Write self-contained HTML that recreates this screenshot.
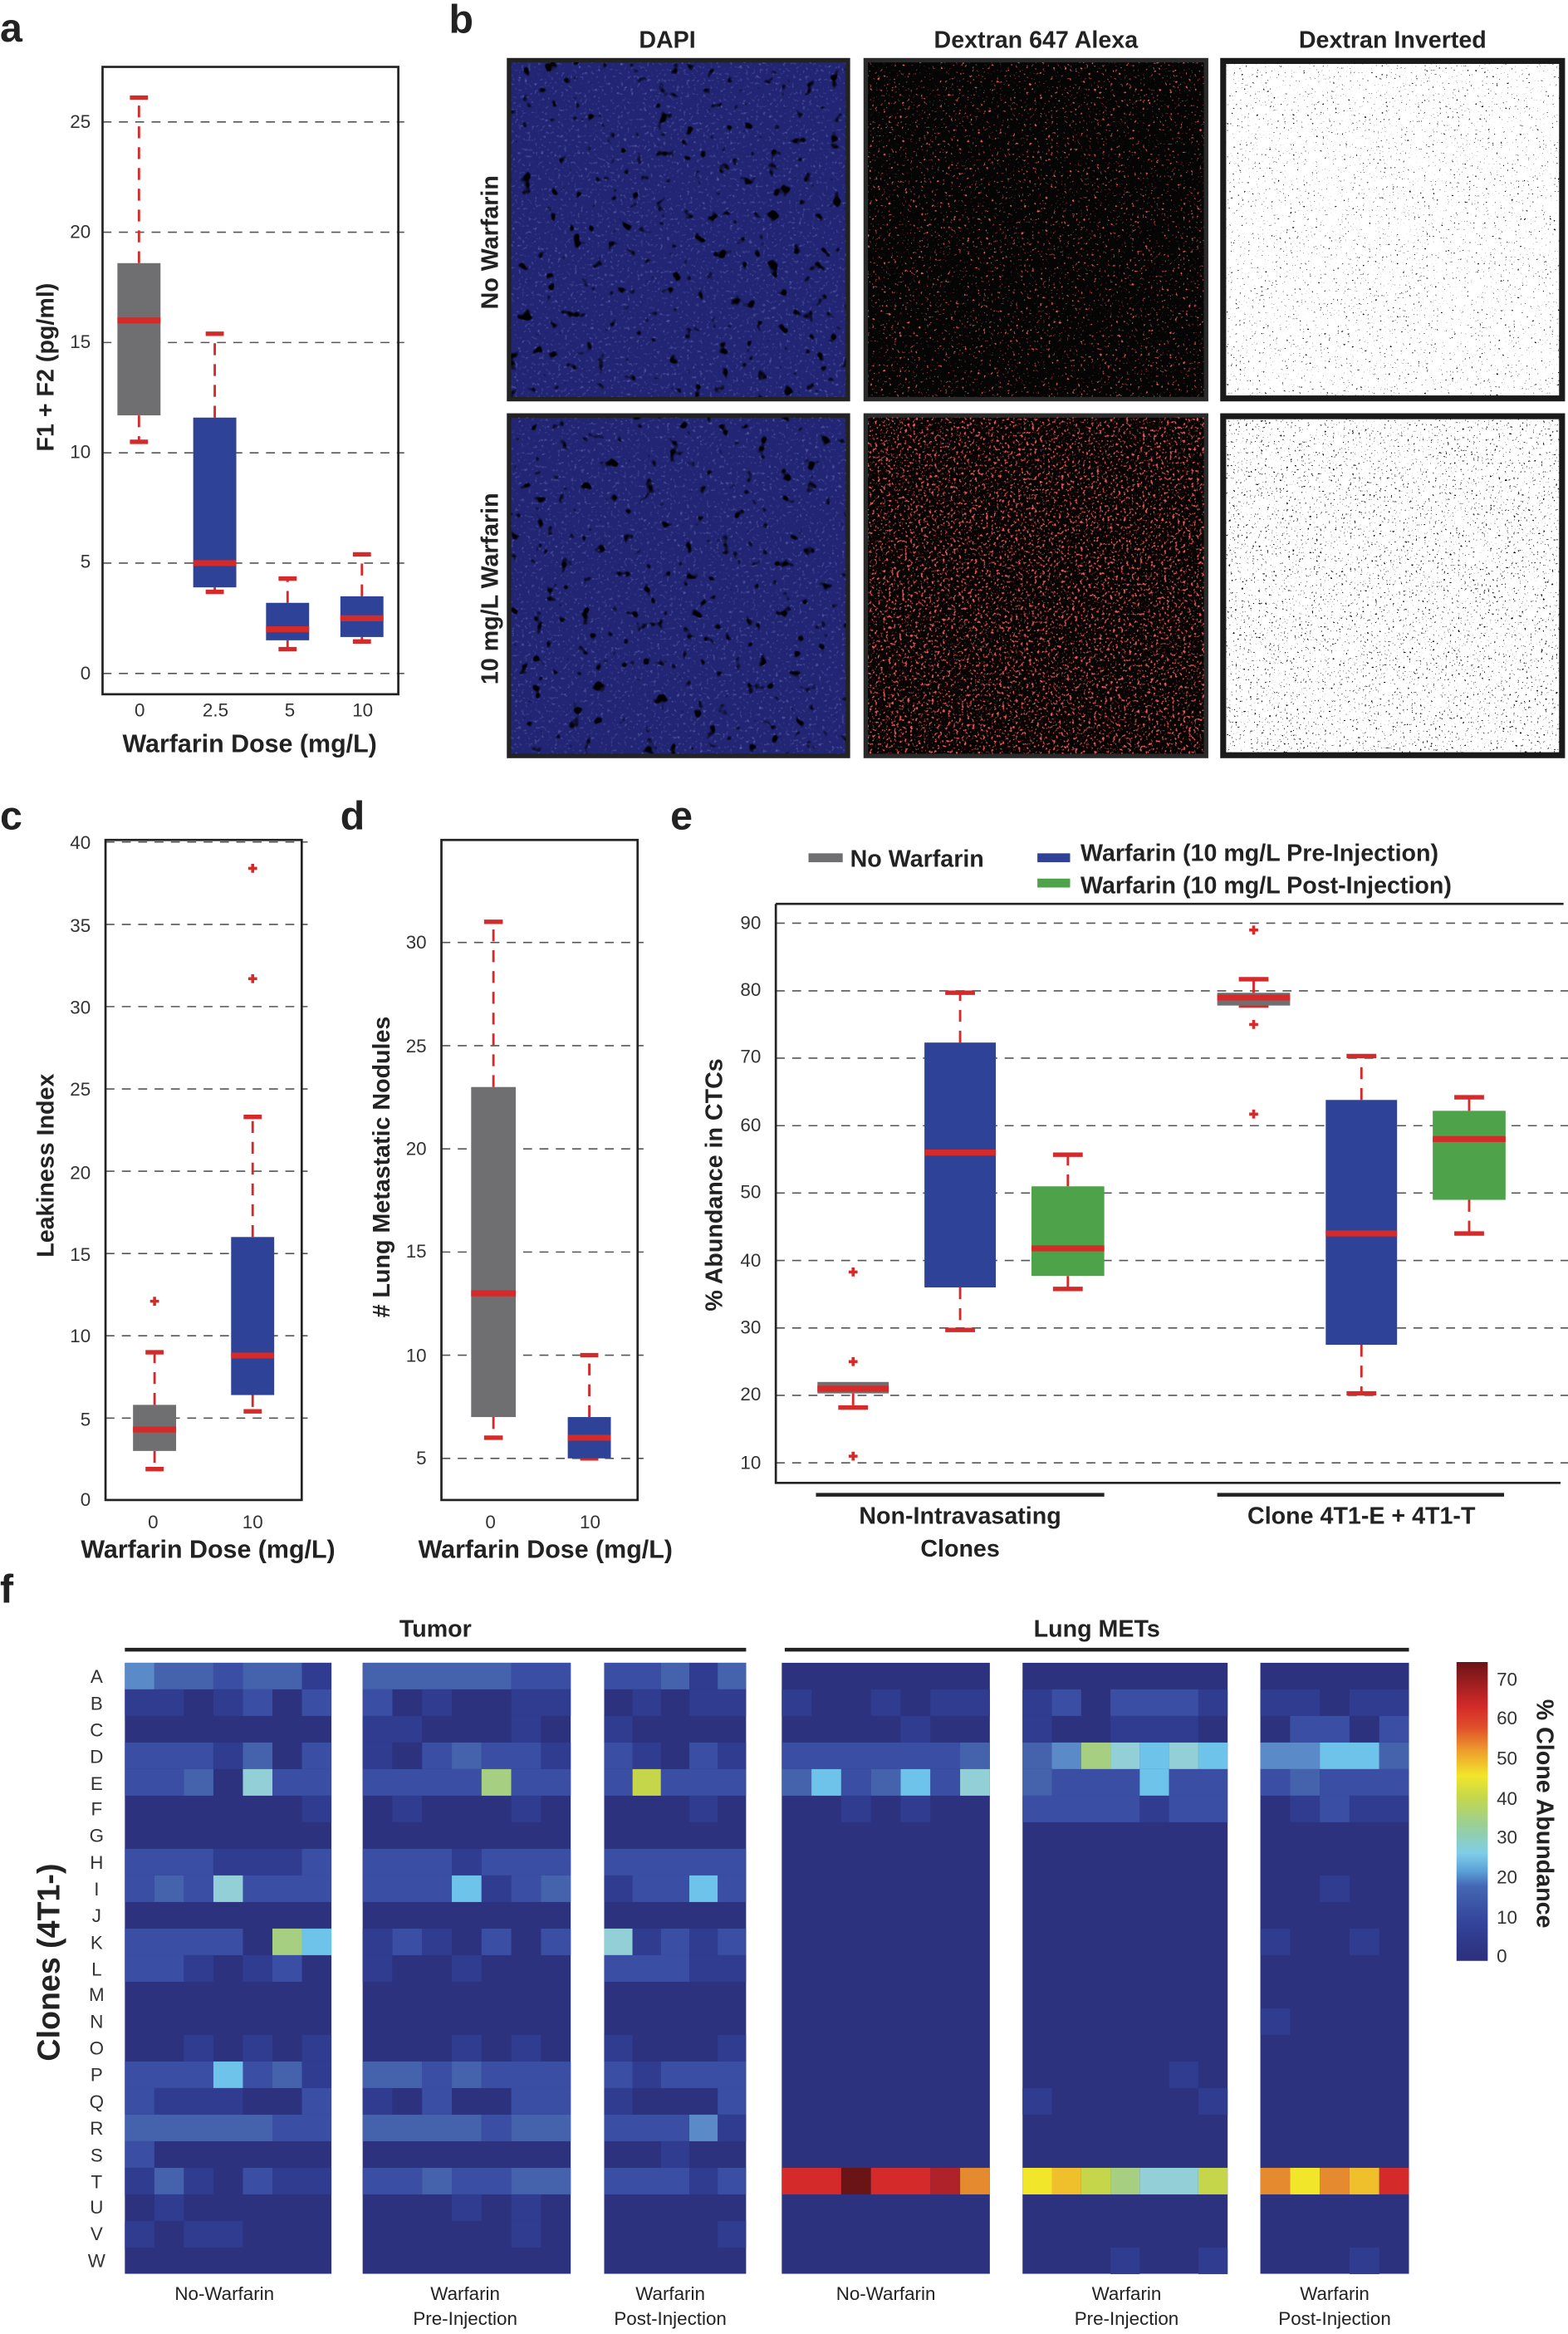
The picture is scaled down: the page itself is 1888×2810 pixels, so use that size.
<!DOCTYPE html>
<html><head><meta charset="utf-8"><style>
html,body{margin:0;padding:0;background:#fff;}
svg{display:block;}
text{font-family:"Liberation Sans",Arial,sans-serif;}
.t{font-size:12.5px;fill:#333;}
.b{font-weight:bold;fill:#222;}
.gd{stroke:#555;stroke-width:0.9;stroke-dasharray:6 5;}
.w{stroke:#d42a2a;stroke-width:1.6;stroke-dasharray:8 6;fill:none;}
.cp{stroke:#d42a2a;stroke-width:3;fill:none;}
.md{stroke:#d42a2a;stroke-width:4;}
.pl{stroke:#d42a2a;stroke-width:2;fill:none;}
.fr{fill:none;stroke:#222;stroke-width:1.5;}
.gr{fill:#6f6f72}.bl{fill:#2e4398}.gn{fill:#4ea24a}
.k0{fill:#2c327e}.k1{fill:#2f3c90}.k2{fill:#3a4ea3}.k3{fill:#4562ad}.k4{fill:#5a8bc8}.k5{fill:#6ec3ea}.k6{fill:#93cfd6}.k7{fill:#a6cf82}.k8{fill:#c5d64a}.k9{fill:#f2e62a}.ka{fill:#f0c02c}.kb{fill:#e58a2e}.kd{fill:#d42a2a}.ke{fill:#b02229}.kf{fill:#6b1416}
</style></head><body>
<svg xmlns="http://www.w3.org/2000/svg" width="1888" height="2810" viewBox="0 0 1055 1570" preserveAspectRatio="none">
<defs>
<filter id="fDapi" x="0" y="0" width="1" height="1">
<feTurbulence type="fractalNoise" baseFrequency="0.12" numOctaves="2" seed="3"/>
<feColorMatrix values="0 0 0 0 0  0 0 0 0 0  0 0 0 0 0  9 0 0 0 -6.0"/>
</filter>
<filter id="fDapi2" x="0" y="0" width="1" height="1">
<feTurbulence type="fractalNoise" baseFrequency="0.45" numOctaves="2" seed="5"/>
<feColorMatrix values="0 0 0 0 0.2  0 0 0 0 0.22  0 0 0 0 0.58  2 0 0 0 -1.2"/>
</filter>
<filter id="fRed1" x="0" y="0" width="1" height="1">
<feTurbulence type="fractalNoise" baseFrequency="0.55" numOctaves="2" seed="7"/>
<feColorMatrix values="0 0 0 0 0.8  0 0 0 0 0.1  0 0 0 0 0.1  7 0 0 0 -4.5"/>
</filter>
<filter id="fRed2" x="0" y="0" width="1" height="1">
<feTurbulence type="fractalNoise" baseFrequency="0.55" numOctaves="2" seed="9"/>
<feColorMatrix values="0 0 0 0 0.85  0 0 0 0 0.1  0 0 0 0 0.1  6 0 0 0 -3.4"/>
</filter>
<filter id="fInv1" x="0" y="0" width="1" height="1">
<feTurbulence type="fractalNoise" baseFrequency="0.7" numOctaves="2" seed="11"/>
<feColorMatrix values="0 0 0 0 0  0 0 0 0 0  0 0 0 0 0  12 0 0 0 -8.6"/>
</filter>
<filter id="fInv2" x="0" y="0" width="1" height="1">
<feTurbulence type="fractalNoise" baseFrequency="0.7" numOctaves="2" seed="13"/>
<feColorMatrix values="0 0 0 0 0  0 0 0 0 0  0 0 0 0 0  12 0 0 0 -8.2"/>
</filter>
<linearGradient id="cb" x1="0" y1="1" x2="0" y2="0">
<stop offset="0" stop-color="#2c2f7c"/>
<stop offset="0.13" stop-color="#34449a"/>
<stop offset="0.25" stop-color="#4467b4"/>
<stop offset="0.3" stop-color="#5aa0d8"/>
<stop offset="0.36" stop-color="#7fcde8"/>
<stop offset="0.45" stop-color="#98cf9a"/>
<stop offset="0.55" stop-color="#c6d84a"/>
<stop offset="0.62" stop-color="#f2e62a"/>
<stop offset="0.7" stop-color="#eea02c"/>
<stop offset="0.78" stop-color="#e0502a"/>
<stop offset="0.85" stop-color="#d42a2a"/>
<stop offset="1" stop-color="#6b1416"/>
</linearGradient>
</defs>

<!-- Panel b images -->
<rect x="341" y="39" width="231" height="231" fill="#222"/>
<rect x="344" y="42" width="225" height="225" fill="#212574"/>
<rect x="344" y="42" width="225" height="225" filter="url(#fDapi2)"/>
<rect x="344" y="42" width="225" height="225" filter="url(#fDapi)"/>
<rect x="581" y="39" width="232" height="231" fill="#2a2a2a"/>
<rect x="584" y="42" width="226" height="225" fill="#050505"/>
<rect x="584" y="42" width="226" height="225" filter="url(#fRed1)"/>
<rect x="821" y="39" width="232" height="231" fill="#1a1a1a"/>
<rect x="825" y="43" width="224" height="223" fill="#fff"/>
<rect x="825" y="43" width="224" height="223" filter="url(#fInv1)"/>

<rect x="341" y="278" width="231" height="232" fill="#222"/>
<rect x="344" y="281" width="225" height="226" fill="#212574"/>
<rect x="344" y="281" width="225" height="226" filter="url(#fDapi2)"/>
<rect x="344" y="281" width="225" height="226" filter="url(#fDapi)"/>
<rect x="581" y="278" width="232" height="232" fill="#2a2a2a"/>
<rect x="584" y="281" width="226" height="226" fill="#070303"/>
<rect x="584" y="281" width="226" height="226" filter="url(#fRed2)"/>
<rect x="821" y="278" width="232" height="232" fill="#1a1a1a"/>
<rect x="825" y="282" width="224" height="224" fill="#fff"/>
<rect x="825" y="282" width="224" height="224" filter="url(#fInv2)"/>

<!-- Panel a plot -->
<path class="gd" d="M69 453H272M69 378.8H272M69 304.6H272M69 230.4H272M69 156.2H272M69 82H272"/>
<path class="w" d="M93.5 177V65.7M93.5 279.4V297.2M144.5 280.9V224.5M144.5 395.1V398.1M193.5 405.5V389.2M193.5 430.7V436.7M243.5 401.1V372.9M243.5 428.5V431.5"/>
<path class="cp" d="M87.4 65.7H99.6M87.4 297.2H99.6M138.4 224.5H150.6M138.4 398.1H150.6M187.4 389.2H199.6M187.4 436.7H199.6M237.4 372.9H249.6M237.4 431.5H249.6"/>
<rect class="gr" x="79" y="177" width="29" height="102.4"/>
<rect class="bl" x="130" y="280.9" width="29" height="114.2"/>
<rect class="bl" x="179" y="405.5" width="29" height="25.2"/>
<rect class="bl" x="229" y="401.1" width="29" height="27.4"/>
<path class="md" d="M79 215.6H108M130 378.8H159M179 423.3H208M229 415.9H258"/>
<rect class="fr" x="69" y="45" width="199" height="422"/>

<!-- Panel c plot -->
<path class="gd" d="M71 953.9H207M71 898.5H207M71 843.2H207M71 787.8H207M71 732.5H207M71 677.1H207M71 621.8H207M71 566.4H207"/>
<path class="w" d="M104 945V909.6M104 976V988.2M170 832.1V751.3M170 938.4V949.4"/>
<path class="cp" d="M97.9 909.6H110.1M97.9 988.2H110.1M163.9 751.3H176.1M163.9 949.4H176.1"/>
<rect class="gr" x="89.5" y="945" width="29" height="31"/>
<rect class="bl" x="155.5" y="832.1" width="29" height="106.3"/>
<path class="md" d="M89.5 961.6H118.5M155.5 911.8H184.4"/>
<path class="pl" d="M101 875.3h6M104 872.3v6M167 658.3h6M170 655.3v6M167 584.1h6M170 581.1v6"/>
<rect class="fr" x="71" y="565" width="132" height="444"/>

<!-- Panel d plot -->
<path class="gd" d="M297 981H433M297 911.6H433M297 842.2H433M297 772.8H433M297 703.4H433M297 634H433"/>
<path class="w" d="M332 731.2V620.1M332 953.2V967.1M396.5 953.2V911.6"/>
<path class="cp" d="M325.7 620.1H338.3M325.7 967.1H338.3M390.4 911.6H402.6M390.4 981H402.6"/>
<rect class="gr" x="317" y="731.2" width="30" height="222"/>
<rect class="bl" x="382" y="953.2" width="29" height="27.8"/>
<path class="md" d="M317 870H347M382 967.1H411"/>
<rect class="fr" x="297" y="565" width="132" height="444"/>

<!-- Panel e plot -->
<path class="gd" d="M522 984H1055M522 938.6H1055M522 893.3H1055M522 847.9H1055M522 802.5H1055M522 757.2H1055M522 711.8H1055M522 666.5H1055M522 621H1055"/>
<path class="w" d="M646 701.3V667.8M646 866V894.6M718.5 798V776.7M718.5 858.3V867M843.5 667.8V658.7M916 739.9V710.4M916 904.6V937.3M988.5 747.2V738.1M988.5 807.1V829.7M574 937.3V946.8"/>
<path class="cp" d="M564 946.8H584M636 667.8H656M636 894.6H656M708.5 776.7H728.5M708.5 867H728.5M833.5 658.7H853.5M833.5 676.4H853.5M906 710.4H926M906 937.3H926M978.5 738.1H998.5M978.5 829.7H998.5"/>
<rect class="gr" x="550" y="929.6" width="48" height="7.7"/>
<rect class="bl" x="622" y="701.3" width="48" height="164.7"/>
<rect class="gn" x="694" y="798" width="49" height="60.3"/>
<rect class="gr" x="819" y="667.8" width="49" height="8.6"/>
<rect class="bl" x="892" y="739.9" width="48" height="164.7"/>
<rect class="gn" x="964" y="747.2" width="49" height="59.9"/>
<path class="md" d="M550 934.1H598M622 775.3H670M694 839.7H743M819 671H868M892 829.7H940M964 766.2H1013"/>
<path class="pl" d="M571 915.9h6M574 912.9v6M571 855.6h6M574 852.6v6M571 979.5h6M574 976.5v6M840.5 625.6h6M843.5 622.6v6M840.5 689.1h6M843.5 686.1v6M840.5 749.4h6M843.5 746.4v6"/>
<path d="M522 608H1052M522 608V997.5H1050" fill="none" stroke="#222" stroke-width="1.5"/>
<path d="M549 1005.5H743M819 1005.5H1012" stroke="#222" stroke-width="2.5"/>

<!-- Panel f heatmap -->
<path d="M84 1109.7H502M528 1109.7H948" stroke="#222" stroke-width="2.5"/>
<rect x="84" y="1118.5" width="139" height="411" class="k0"/>
<rect x="244" y="1118.5" width="140" height="411" class="k0"/>
<rect x="406.5" y="1118.5" width="95.5" height="411" class="k0"/>
<rect x="526" y="1118.5" width="140" height="411" class="k0"/>
<rect x="688" y="1118.5" width="138" height="411" class="k0"/>
<rect x="848" y="1118.5" width="100" height="411" class="k0"/>

<g transform="translate(84 1118.5) scale(19.857 17.88)">
<rect class="k4" x="0" y="0" width="1" height="1"/><rect class="k3" x="1" y="0" width="2" height="1"/><rect class="k2" x="3" y="0" width="1" height="1"/><rect class="k3" x="4" y="0" width="2" height="1"/><rect class="k1" x="6" y="0" width="1" height="1"/>
<rect class="k1" x="0" y="1" width="2" height="1"/><rect class="k1" x="3" y="1" width="1" height="1"/><rect class="k2" x="4" y="1" width="1" height="1"/><rect class="k2" x="6" y="1" width="1" height="1"/>
<rect class="k2" x="0" y="3" width="3" height="1"/><rect class="k1" x="3" y="3" width="1" height="1"/><rect class="k3" x="4" y="3" width="1" height="1"/><rect class="k2" x="6" y="3" width="1" height="1"/>
<rect class="k2" x="0" y="4" width="2" height="1"/><rect class="k3" x="2" y="4" width="1" height="1"/><rect class="k6" x="4" y="4" width="1" height="1"/><rect class="k2" x="5" y="4" width="2" height="1"/>
<rect class="k1" x="6" y="5" width="1" height="1"/>
<rect class="k2" x="0" y="7" width="3" height="1"/><rect class="k1" x="3" y="7" width="3" height="1"/><rect class="k2" x="6" y="7" width="1" height="1"/>
<rect class="k2" x="0" y="8" width="1" height="1"/><rect class="k3" x="1" y="8" width="1" height="1"/><rect class="k2" x="2" y="8" width="1" height="1"/><rect class="k6" x="3" y="8" width="1" height="1"/><rect class="k2" x="4" y="8" width="3" height="1"/>
<rect class="k2" x="0" y="10" width="4" height="1"/><rect class="k7" x="5" y="10" width="1" height="1"/><rect class="k5" x="6" y="10" width="1" height="1"/>
<rect class="k2" x="0" y="11" width="2" height="1"/><rect class="k1" x="2" y="11" width="1" height="1"/><rect class="k1" x="4" y="11" width="1" height="1"/><rect class="k2" x="5" y="11" width="1" height="1"/>
<rect class="k1" x="2" y="14" width="1" height="1"/><rect class="k1" x="4" y="14" width="1" height="1"/><rect class="k1" x="6" y="14" width="1" height="1"/>
<rect class="k2" x="0" y="15" width="3" height="1"/><rect class="k5" x="3" y="15" width="1" height="1"/><rect class="k2" x="4" y="15" width="1" height="1"/><rect class="k3" x="5" y="15" width="1" height="1"/><rect class="k1" x="6" y="15" width="1" height="1"/>
<rect class="k2" x="0" y="16" width="1" height="1"/><rect class="k1" x="1" y="16" width="3" height="1"/><rect class="k2" x="6" y="16" width="1" height="1"/>
<rect class="k3" x="0" y="17" width="5" height="1"/><rect class="k2" x="5" y="17" width="2" height="1"/>
<rect class="k2" x="0" y="18" width="1" height="1"/>
<rect class="k1" x="0" y="19" width="1" height="1"/><rect class="k3" x="1" y="19" width="1" height="1"/><rect class="k1" x="2" y="19" width="1" height="1"/><rect class="k2" x="4" y="19" width="1" height="1"/><rect class="k1" x="5" y="19" width="2" height="1"/>
<rect class="k1" x="1" y="20" width="1" height="1"/>
<rect class="k1" x="0" y="21" width="1" height="1"/><rect class="k1" x="2" y="21" width="2" height="1"/>
</g>

<g transform="translate(244 1118.5) scale(20 17.88)">
<rect class="k3" x="0" y="0" width="5" height="1"/><rect class="k2" x="5" y="0" width="2" height="1"/>
<rect class="k2" x="0" y="1" width="1" height="1"/><rect class="k1" x="2" y="1" width="1" height="1"/><rect class="k1" x="5" y="1" width="2" height="1"/>
<rect class="k1" x="0" y="2" width="2" height="1"/><rect class="k1" x="5" y="2" width="1" height="1"/>
<rect class="k1" x="0" y="3" width="1" height="1"/><rect class="k2" x="2" y="3" width="1" height="1"/><rect class="k3" x="3" y="3" width="1" height="1"/><rect class="k2" x="4" y="3" width="2" height="1"/><rect class="k1" x="6" y="3" width="1" height="1"/>
<rect class="k2" x="0" y="4" width="4" height="1"/><rect class="k7" x="4" y="4" width="1" height="1"/><rect class="k2" x="5" y="4" width="2" height="1"/>
<rect class="k1" x="1" y="5" width="1" height="1"/><rect class="k1" x="5" y="5" width="1" height="1"/>
<rect class="k2" x="0" y="7" width="3" height="1"/><rect class="k1" x="3" y="7" width="1" height="1"/><rect class="k2" x="4" y="7" width="3" height="1"/>
<rect class="k2" x="0" y="8" width="3" height="1"/><rect class="k5" x="3" y="8" width="1" height="1"/><rect class="k1" x="4" y="8" width="1" height="1"/><rect class="k2" x="5" y="8" width="1" height="1"/><rect class="k3" x="6" y="8" width="1" height="1"/>
<rect class="k1" x="0" y="10" width="1" height="1"/><rect class="k2" x="1" y="10" width="1" height="1"/><rect class="k1" x="2" y="10" width="1" height="1"/><rect class="k2" x="4" y="10" width="1" height="1"/><rect class="k2" x="6" y="10" width="1" height="1"/>
<rect class="k1" x="0" y="11" width="1" height="1"/><rect class="k1" x="3" y="11" width="1" height="1"/>
<rect class="k1" x="3" y="14" width="1" height="1"/><rect class="k1" x="5" y="14" width="1" height="1"/>
<rect class="k3" x="0" y="15" width="2" height="1"/><rect class="k2" x="2" y="15" width="1" height="1"/><rect class="k3" x="3" y="15" width="1" height="1"/><rect class="k2" x="4" y="15" width="3" height="1"/>
<rect class="k1" x="0" y="16" width="1" height="1"/><rect class="k2" x="2" y="16" width="1" height="1"/><rect class="k2" x="5" y="16" width="2" height="1"/>
<rect class="k3" x="0" y="17" width="4" height="1"/><rect class="k2" x="4" y="17" width="1" height="1"/><rect class="k3" x="5" y="17" width="2" height="1"/>
<rect class="k2" x="0" y="19" width="2" height="1"/><rect class="k3" x="2" y="19" width="1" height="1"/><rect class="k2" x="3" y="19" width="2" height="1"/><rect class="k3" x="5" y="19" width="2" height="1"/>
<rect class="k1" x="3" y="20" width="1" height="1"/><rect class="k1" x="5" y="20" width="1" height="1"/>
<rect class="k1" x="5" y="21" width="1" height="1"/>
</g>

<g transform="translate(406.5 1118.5) scale(19.1 17.88)">
<rect class="k2" x="0" y="0" width="2" height="1"/><rect class="k3" x="2" y="0" width="1" height="1"/><rect class="k1" x="3" y="0" width="1" height="1"/><rect class="k3" x="4" y="0" width="1" height="1"/>
<rect class="k1" x="1" y="1" width="1" height="1"/><rect class="k1" x="3" y="1" width="2" height="1"/>
<rect class="k1" x="0" y="2" width="1" height="1"/>
<rect class="k2" x="0" y="3" width="1" height="1"/><rect class="k1" x="1" y="3" width="1" height="1"/><rect class="k2" x="3" y="3" width="1" height="1"/><rect class="k1" x="4" y="3" width="1" height="1"/>
<rect class="k2" x="0" y="4" width="1" height="1"/><rect class="k8" x="1" y="4" width="1" height="1"/><rect class="k2" x="2" y="4" width="3" height="1"/>
<rect class="k1" x="3" y="5" width="1" height="1"/>
<rect class="k2" x="0" y="7" width="5" height="1"/>
<rect class="k1" x="0" y="8" width="1" height="1"/><rect class="k2" x="1" y="8" width="2" height="1"/><rect class="k5" x="3" y="8" width="1" height="1"/><rect class="k2" x="4" y="8" width="1" height="1"/>
<rect class="k6" x="0" y="10" width="1" height="1"/><rect class="k1" x="1" y="10" width="1" height="1"/><rect class="k2" x="2" y="10" width="1" height="1"/><rect class="k1" x="3" y="10" width="1" height="1"/><rect class="k2" x="4" y="10" width="1" height="1"/>
<rect class="k2" x="0" y="11" width="3" height="1"/><rect class="k1" x="3" y="11" width="2" height="1"/>
<rect class="k1" x="0" y="14" width="1" height="1"/><rect class="k1" x="4" y="14" width="1" height="1"/>
<rect class="k2" x="0" y="15" width="1" height="1"/><rect class="k1" x="1" y="15" width="1" height="1"/><rect class="k2" x="2" y="15" width="3" height="1"/>
<rect class="k1" x="0" y="16" width="1" height="1"/><rect class="k2" x="4" y="16" width="1" height="1"/>
<rect class="k2" x="0" y="17" width="3" height="1"/><rect class="k4" x="3" y="17" width="1" height="1"/><rect class="k1" x="4" y="17" width="1" height="1"/>
<rect class="k1" x="2" y="18" width="1" height="1"/>
<rect class="k2" x="0" y="19" width="3" height="1"/><rect class="k1" x="3" y="19" width="1" height="1"/><rect class="k2" x="4" y="19" width="1" height="1"/>
<rect class="k1" x="4" y="21" width="1" height="1"/>
</g>

<g transform="translate(526 1118.5) scale(20 17.88)">
<rect class="k1" x="0" y="1" width="1" height="1"/><rect class="k1" x="3" y="1" width="1" height="1"/><rect class="k1" x="5" y="1" width="2" height="1"/>
<rect class="k1" x="4" y="2" width="1" height="1"/>
<rect class="k2" x="0" y="3" width="6" height="1"/><rect class="k3" x="6" y="3" width="1" height="1"/>
<rect class="k3" x="0" y="4" width="1" height="1"/><rect class="k5" x="1" y="4" width="1" height="1"/><rect class="k2" x="2" y="4" width="1" height="1"/><rect class="k3" x="3" y="4" width="1" height="1"/><rect class="k5" x="4" y="4" width="1" height="1"/><rect class="k2" x="5" y="4" width="1" height="1"/><rect class="k6" x="6" y="4" width="1" height="1"/>
<rect class="k1" x="2" y="5" width="1" height="1"/><rect class="k1" x="4" y="5" width="1" height="1"/>
<rect class="kd" x="0" y="19" width="2" height="1"/><rect class="kf" x="2" y="19" width="1" height="1"/><rect class="kd" x="3" y="19" width="2" height="1"/><rect class="ke" x="5" y="19" width="1" height="1"/><rect class="kb" x="6" y="19" width="1" height="1"/>
</g>

<g transform="translate(688 1118.5) scale(19.714 17.88)">
<rect class="k1" x="0" y="1" width="1" height="1"/><rect class="k2" x="1" y="1" width="1" height="1"/><rect class="k2" x="3" y="1" width="3" height="1"/><rect class="k1" x="6" y="1" width="1" height="1"/>
<rect class="k1" x="0" y="2" width="1" height="1"/><rect class="k1" x="3" y="2" width="3" height="1"/>
<rect class="k3" x="0" y="3" width="1" height="1"/><rect class="k4" x="1" y="3" width="1" height="1"/><rect class="k7" x="2" y="3" width="1" height="1"/><rect class="k6" x="3" y="3" width="1" height="1"/><rect class="k5" x="4" y="3" width="1" height="1"/><rect class="k6" x="5" y="3" width="1" height="1"/><rect class="k5" x="6" y="3" width="1" height="1"/>
<rect class="k3" x="0" y="4" width="1" height="1"/><rect class="k2" x="1" y="4" width="3" height="1"/><rect class="k5" x="4" y="4" width="1" height="1"/><rect class="k2" x="5" y="4" width="2" height="1"/>
<rect class="k2" x="0" y="5" width="4" height="1"/><rect class="k1" x="4" y="5" width="1" height="1"/><rect class="k2" x="5" y="5" width="2" height="1"/>
<rect class="k1" x="5" y="15" width="1" height="1"/>
<rect class="k1" x="0" y="16" width="1" height="1"/><rect class="k1" x="6" y="16" width="1" height="1"/>
<rect class="k9" x="0" y="19" width="1" height="1"/><rect class="ka" x="1" y="19" width="1" height="1"/><rect class="k8" x="2" y="19" width="1" height="1"/><rect class="k7" x="3" y="19" width="1" height="1"/><rect class="k6" x="4" y="19" width="2" height="1"/><rect class="k8" x="6" y="19" width="1" height="1"/>
<rect class="k1" x="3" y="22" width="1" height="1"/><rect class="k1" x="6" y="22" width="1" height="1"/>
</g>

<g transform="translate(848 1118.5) scale(20 17.88)">
<rect class="k1" x="0" y="1" width="2" height="1"/><rect class="k1" x="3" y="1" width="2" height="1"/>
<rect class="k2" x="1" y="2" width="2" height="1"/><rect class="k2" x="4" y="2" width="1" height="1"/>
<rect class="k4" x="0" y="3" width="2" height="1"/><rect class="k5" x="2" y="3" width="2" height="1"/><rect class="k3" x="4" y="3" width="1" height="1"/>
<rect class="k2" x="0" y="4" width="1" height="1"/><rect class="k3" x="1" y="4" width="1" height="1"/><rect class="k2" x="2" y="4" width="3" height="1"/>
<rect class="k1" x="1" y="5" width="1" height="1"/><rect class="k2" x="2" y="5" width="1" height="1"/><rect class="k1" x="3" y="5" width="2" height="1"/>
<rect class="k1" x="2" y="8" width="1" height="1"/>
<rect class="k1" x="0" y="10" width="1" height="1"/><rect class="k1" x="3" y="10" width="1" height="1"/>
<rect class="k1" x="0" y="13" width="1" height="1"/>
<rect class="kb" x="0" y="19" width="1" height="1"/><rect class="k9" x="1" y="19" width="1" height="1"/><rect class="kb" x="2" y="19" width="1" height="1"/><rect class="ka" x="3" y="19" width="1" height="1"/><rect class="kd" x="4" y="19" width="1" height="1"/>
<rect class="k1" x="3" y="22" width="1" height="1"/>
</g>
<rect x="980" y="1118" width="21" height="201" fill="url(#cb)"/>

<!-- Panel a text -->
<text x="0" y="28" class="b" font-size="27">a</text>
<g class="t" text-anchor="end">
<text x="61" y="86">25</text><text x="61" y="160">20</text><text x="61" y="234">15</text>
<text x="61" y="308">10</text><text x="61" y="382">5</text><text x="61" y="457">0</text>
</g>
<g class="t" text-anchor="middle">
<text x="94" y="482">0</text><text x="145" y="482">2.5</text><text x="195" y="482">5</text><text x="244" y="482">10</text>
</g>
<text x="168" y="506" class="b" font-size="17" text-anchor="middle">Warfarin Dose (mg/L)</text>
<text transform="translate(36,247) rotate(-90)" class="b" font-size="16" text-anchor="middle">F1 + F2 (pg/ml)</text>

<!-- Panel b text -->
<text x="302" y="22" class="b" font-size="27">b</text>
<text x="449" y="32" class="b" font-size="16" text-anchor="middle">DAPI</text>
<text x="697" y="32" class="b" font-size="16" text-anchor="middle">Dextran 647 Alexa</text>
<text x="937" y="32" class="b" font-size="16" text-anchor="middle">Dextran Inverted</text>
<text transform="translate(335,163) rotate(-90)" class="b" font-size="16" text-anchor="middle">No Warfarin</text>
<text transform="translate(335,396) rotate(-90)" class="b" font-size="16" text-anchor="middle">10 mg/L Warfarin</text>

<!-- Panel c text -->
<text x="0" y="558" class="b" font-size="27">c</text>
<g class="t" text-anchor="end">
<text x="61" y="571">40</text><text x="61" y="627">35</text><text x="61" y="682">30</text>
<text x="61" y="737">25</text><text x="61" y="793">20</text><text x="61" y="848">15</text>
<text x="61" y="903">10</text><text x="61" y="959">5</text><text x="61" y="1013">0</text>
</g>
<g class="t" text-anchor="middle"><text x="103" y="1028">0</text><text x="170" y="1028">10</text></g>
<text x="140" y="1048" class="b" font-size="17" text-anchor="middle">Warfarin Dose (mg/L)</text>
<text transform="translate(36,784) rotate(-90)" class="b" font-size="16" text-anchor="middle">Leakiness Index</text>

<!-- Panel d text -->
<text x="229" y="558" class="b" font-size="27">d</text>
<g class="t" text-anchor="end">
<text x="287" y="638">30</text><text x="287" y="708">25</text><text x="287" y="777">20</text>
<text x="287" y="846">15</text><text x="287" y="916">10</text><text x="287" y="985">5</text>
</g>
<g class="t" text-anchor="middle"><text x="330" y="1028">0</text><text x="397" y="1028">10</text></g>
<text x="367" y="1048" class="b" font-size="17" text-anchor="middle">Warfarin Dose (mg/L)</text>
<text transform="translate(262,785) rotate(-90)" class="b" font-size="16" text-anchor="middle"># Lung Metastatic Nodules</text>

<!-- Panel e text -->
<text x="451" y="558" class="b" font-size="27">e</text>
<rect x="544" y="574" width="23" height="6" fill="#6f6f72"/>
<text x="572" y="583" class="b" font-size="16">No Warfarin</text>
<rect x="698" y="574" width="22" height="6" fill="#2e4398"/>
<text x="727" y="579" class="b" font-size="16">Warfarin (10 mg/L Pre-Injection)</text>
<rect x="698" y="591" width="22" height="6" fill="#4ea24a"/>
<text x="727" y="601" class="b" font-size="16">Warfarin (10 mg/L Post-Injection)</text>
<g class="t" text-anchor="end">
<text x="512" y="625">90</text><text x="512" y="670">80</text><text x="512" y="715">70</text>
<text x="512" y="761">60</text><text x="512" y="806">50</text><text x="512" y="852">40</text>
<text x="512" y="897">30</text><text x="512" y="942">20</text><text x="512" y="988">10</text>
</g>
<text x="646" y="1025" class="b" font-size="16" text-anchor="middle">Non-Intravasating</text>
<text x="646" y="1047" class="b" font-size="16" text-anchor="middle">Clones</text>
<text x="916" y="1025" class="b" font-size="16" text-anchor="middle">Clone 4T1-E + 4T1-T</text>
<text transform="translate(486,797) rotate(-90)" class="b" font-size="16" text-anchor="middle">% Abundance in CTCs</text>

<!-- Panel f text -->
<text x="0" y="1078" class="b" font-size="27">f</text>
<text x="293" y="1101" class="b" font-size="16" text-anchor="middle">Tumor</text>
<text x="738" y="1101" class="b" font-size="16" text-anchor="middle">Lung METs</text>
<g class="t" text-anchor="middle" font-size="13">
<text x="65" y="1132">A</text><text x="65" y="1150">B</text><text x="65" y="1168">C</text><text x="65" y="1186">D</text>
<text x="65" y="1204">E</text><text x="65" y="1221">F</text><text x="65" y="1239">G</text><text x="65" y="1257">H</text>
<text x="65" y="1275">I</text><text x="65" y="1293">J</text><text x="65" y="1311">K</text><text x="65" y="1329">L</text>
<text x="65" y="1346">M</text><text x="65" y="1364">N</text><text x="65" y="1382">O</text><text x="65" y="1400">P</text>
<text x="65" y="1418">Q</text><text x="65" y="1436">R</text><text x="65" y="1454">S</text><text x="65" y="1472">T</text>
<text x="65" y="1489">U</text><text x="65" y="1507">V</text><text x="65" y="1525">W</text>
</g>
<text transform="translate(40,1320) rotate(-90)" class="b" font-size="21" text-anchor="middle">Clones (4T1-)</text>
<g class="t" text-anchor="middle" font-size="14" style="fill:#222">
<text x="151" y="1547">No-Warfarin</text>
<text x="313" y="1547">Warfarin</text><text x="313" y="1564">Pre-Injection</text>
<text x="451" y="1547">Warfarin</text><text x="451" y="1564">Post-Injection</text>
<text x="596" y="1547">No-Warfarin</text>
<text x="758" y="1547">Warfarin</text><text x="758" y="1564">Pre-Injection</text>
<text x="898" y="1547">Warfarin</text><text x="898" y="1564">Post-Injection</text>
</g>
<g class="t" font-size="13">
<text x="1007" y="1134">70</text><text x="1007" y="1160">60</text><text x="1007" y="1187">50</text>
<text x="1007" y="1214">40</text><text x="1007" y="1240">30</text><text x="1007" y="1267">20</text>
<text x="1007" y="1294">10</text><text x="1007" y="1320">0</text>
</g>
<text transform="translate(1034,1220) rotate(90)" class="b" font-size="16" text-anchor="middle">% Clone Abundance</text>
</svg>
</body></html>
